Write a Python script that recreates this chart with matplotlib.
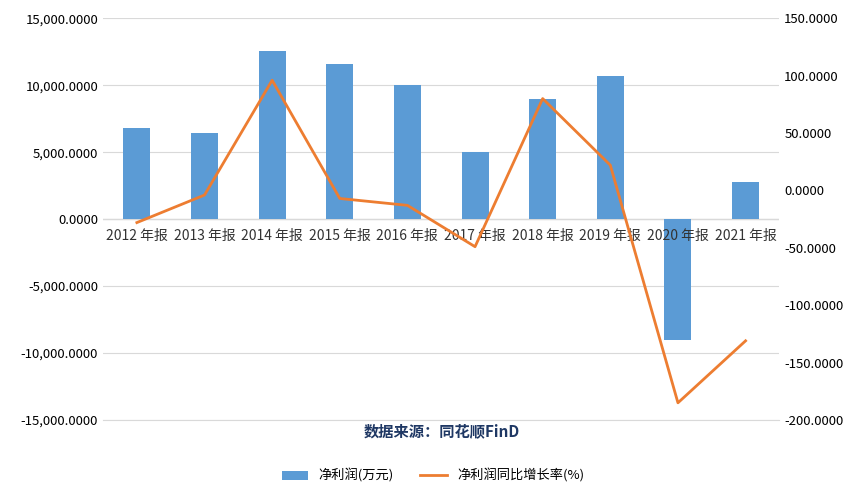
import matplotlib
matplotlib.use("Agg")
import matplotlib.pyplot as plt
import numpy as np
from matplotlib.ticker import FuncFormatter

plt.rcParams['font.family'] = ['Noto Sans CJK SC', 'DejaVu Sans']

categories = ["2012 年报", "2013 年报", "2014 年报", "2015 年报", "2016 年报",
              "2017 年报", "2018 年报", "2019 年报", "2020 年报", "2021 年报"]
profit = [6800, 6450, 12550, 11600, 10000, 5000, 9000, 10700, -9000, 2800]
growth = [-28, -4, 96, -7, -13, -49, 80, 22, -185, -131]

fig = plt.figure(figsize=(8.66, 4.93), dpi=100)
ax = fig.add_axes([0.119, 0.148, 0.781, 0.815])
x = np.arange(len(categories))
ax.bar(x, profit, width=0.4, color='#5B9BD5', label='净利润(万元)', zorder=2)
ax.set_ylim(-15000, 15000)
ax.set_yticks(np.arange(-15000, 15001, 5000))
ax.yaxis.set_major_formatter(FuncFormatter(lambda v, p: f"{v:,.4f}"))
ax.grid(axis='y', color='#D9D9D9', zorder=0)
ax.set_xlim(-0.5, len(categories) - 0.5)
ax.set_xticks([])
for s in ['top', 'right', 'left']:
    ax.spines[s].set_visible(False)
ax.spines['bottom'].set_color('#D9D9D9')
ax.axhline(0, color='#D9D9D9', lw=1, zorder=1)
for xi, c in zip(x, categories):
    ax.text(xi, -700, c, ha='center', va='top', fontsize=10, color='#333333')
ax.tick_params(axis='y', length=0, labelsize=9.5)

ax2 = ax.twinx()
ax2.plot(x, growth, color='#ED7D31', lw=2, label='净利润同比增长率(%)')
ax2.set_ylim(-200, 150)
ax2.set_yticks(np.arange(-200, 151, 50))
ax2.yaxis.set_major_formatter(FuncFormatter(lambda v, p: f"{v:.4f}"))
ax2.tick_params(axis='y', length=0, labelsize=9.5)
for s in ['top', 'right', 'left', 'bottom']:
    ax2.spines[s].set_visible(False)

fig.text(0.51, 0.125, '数据来源：同花顺FinD', ha='center', va='center',
         fontsize=11, fontweight='bold', color='#1F3864')
h1, l1 = ax.get_legend_handles_labels()
h2, l2 = ax2.get_legend_handles_labels()
fig.legend(h1 + h2, l1 + l2, loc='center', bbox_to_anchor=(0.5, 0.035), ncol=2,
           frameon=False, fontsize=9.5)
fig.savefig('out.png', dpi=100)
